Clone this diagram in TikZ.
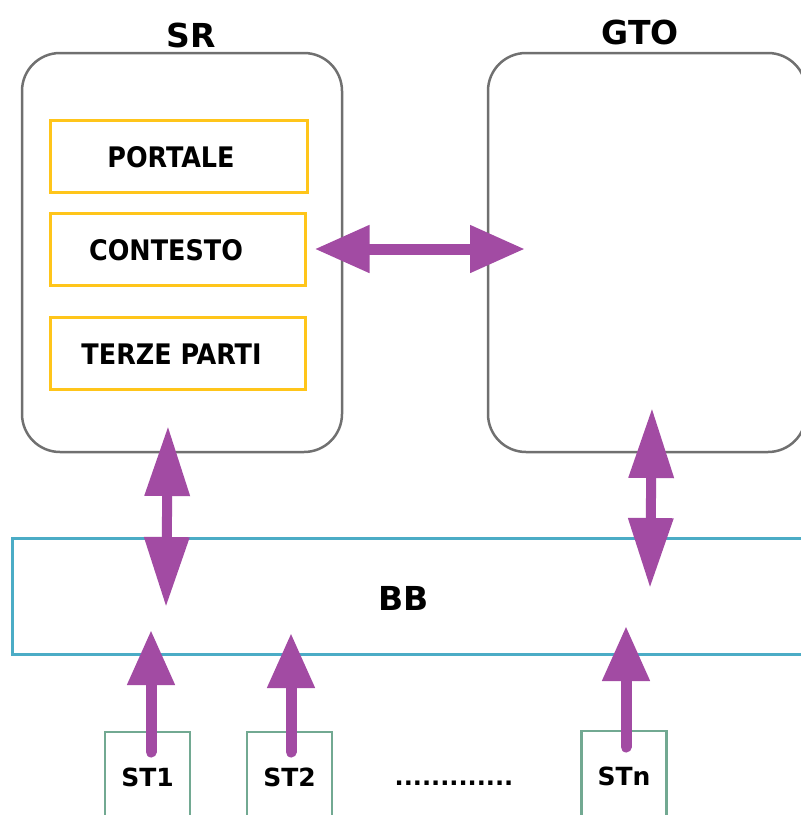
\documentclass[tikz,border=0pt]{standalone}
\usepackage{fontspec}
\setmainfont{DejaVu Sans}
\newfontfamily\condfont{DejaVu Sans Condensed}
\usetikzlibrary{arrows.meta,calc}
\definecolor{purp}{HTML}{A24BA3}
\definecolor{boxgray}{HTML}{707070}
\definecolor{ygold}{HTML}{FFC51A}
\definecolor{bbcyan}{HTML}{4BACC6}
\definecolor{stgreen}{HTML}{72A992}
\begin{document}
\begin{tikzpicture}[x=1pt,y=-1pt,
  bigbox/.style={draw=boxgray,line width=2.5pt,rounded corners=38pt,minimum height=399pt,inner sep=0pt},
  title/.style={font=\fontsize{33}{36}\selectfont\bfseries,inner sep=0pt},
  ybox/.style={draw=ygold,line width=3pt,minimum height=72pt,inner sep=0pt},
  ytext/.style={font=\condfont\bfseries\fontsize{28.3}{32}\selectfont,inner sep=0pt},
  bbbox/.style={draw=bbcyan,line width=3pt,minimum width=800pt,minimum height=116pt,inner sep=0pt},
  stbox/.style={draw=stgreen,line width=2.5pt,minimum width=85pt,minimum height=90pt,inner sep=0pt,font=\fontsize{25}{28}\selectfont\bfseries},
  darr/.style={purp,line width=11pt,{Triangle[length=55pt,width=45pt]}-{Triangle[length=55pt,width=45pt]}},
  varr/.style={purp,line width=10pt,{Triangle[length=70pt,width=43pt]}-{Triangle[length=70pt,width=43pt]}},
  uarr/.style={purp,line width=11pt,line cap=round,-{Triangle[length=55pt,width=45pt]}}
]
\useasboundingbox (0,0) rectangle (801,815);
% main boxes
\node[bigbox,minimum width=320pt] (sr) at (182,252.5) {};
\node[bigbox,minimum width=318pt] (gto) at (647,252.5) {};
\node[title] (srl) at (191,35) {SR};
\node[title] (gtol) at (640,32) {GTO};
% inner boxes
\node[ybox,minimum width=257pt] (portale) at (178.5,156) {};
\node[ytext] (portalel) at (171,157) {PORTALE};
\node[ybox,minimum width=255pt] (contesto) at (177.5,249) {};
\node[ytext] (contestol) at (166,250) {CONTESTO};
\node[ybox,minimum width=255pt] (terze) at (177.5,353.5) {};
\node[ytext] (terzel) at (171.5,354) {TERZE PARTI};
% BB
\node[bbbox] (bb) at (412,596) {};
\node[title] (bbl) at (404,598) {BB};
% ST boxes
\node[stbox] (st1) at (147.5,777) {ST1};
\node[stbox] (st2) at (289.5,777) {ST2};
\node[stbox] (stn) at (624,776) {STn};
\node[font=\fontsize{24}{28}\selectfont\bfseries,inner sep=0pt,anchor=base] (dots) at (454,785) {.............};
% arrows
\coordinate (h1) at ($(contesto.east)+(8,0)$);
\coordinate (h2) at (525,249);
\draw[darr] (h1) -- (h2);
\coordinate (s1) at (168,426);
\coordinate (s2) at (166,607);
\draw[varr] (s1) -- (s2);
\coordinate (g1) at (652,408);
\coordinate (g2) at (650,588);
\draw[varr] (g1) -- (g2);
\coordinate (t1) at (151,752);
\coordinate (t1e) at (151,630);
\draw[uarr] (t1) -- (t1e);
\coordinate (t2) at (291,752);
\coordinate (t2e) at (291,633);
\draw[uarr] (t2) -- (t2e);
\coordinate (tn) at (626,747);
\coordinate (tne) at (626,626);
\draw[uarr] (tn) -- (tne);
\end{tikzpicture}
\end{document}
